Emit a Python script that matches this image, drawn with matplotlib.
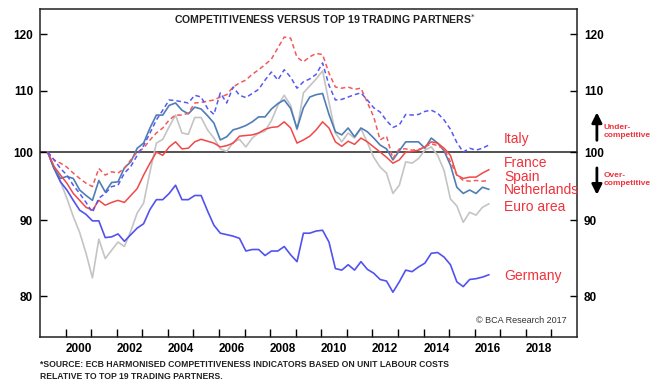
import numpy as np
import matplotlib
matplotlib.use("Agg")
import matplotlib.pyplot as plt
from matplotlib.ticker import FixedLocator, NullFormatter, NullLocator, FixedFormatter

# quarterly observations, 1999Q1 .. 2016Q2 (index 1999Q1 = 100)
quarters = 1999.3 + 0.25 * np.arange(70)

euro_area = [100, 97.5, 95.5, 93.1, 90.5, 88.3, 85.5, 82.3, 87.4, 84.8,
             85.9, 87.0, 86.4, 88.5, 91.0, 92.4, 97.0, 101.4, 102.0, 104.0,
             105.9, 103.0, 102.8, 105.5, 105.5, 103.5, 102.2, 100.5, 100.1, 101.5,
             102.0, 100.8, 102.2, 103.0, 103.3, 105.0, 107.5, 109.2, 107.5, 103.5,
             109.6, 110.8, 112.0, 113.4, 108.0, 103.0, 101.6, 103.0, 102.2, 103.7,
             101.5, 99.2, 97.7, 96.8, 93.8, 95.0, 98.5, 98.3, 99.0, 100.3,
             100.8, 99.5, 97.2, 93.0, 92.0, 89.7, 91.1, 90.7, 91.8, 92.3]

netherlands = [100, 97.5, 96.0, 96.3, 96.0, 94.3, 93.5, 92.8, 95.7, 94.0,
               95.4, 95.5, 97.6, 98.5, 100.6, 101.4, 103.8, 105.9, 105.9, 107.5,
               107.9, 106.7, 106.1, 107.2, 106.9, 105.8, 104.6, 101.9, 102.4, 103.5,
               103.8, 104.2, 104.8, 105.6, 105.6, 106.9, 107.8, 108.4, 107.0, 103.7,
               107.1, 108.9, 109.3, 109.5, 106.0, 103.2, 102.7, 103.8, 102.4, 103.8,
               103.2, 102.2, 101.1, 100.5, 98.8, 100.2, 101.6, 101.6, 101.6, 100.6,
               102.2, 101.4, 100.2, 98.0, 94.7, 93.8, 94.3, 93.8, 94.7, 94.4]

france = [100, 97.8, 96.5, 95.3, 93.8, 92.8, 91.8, 91.4, 92.8, 92.1,
          92.5, 92.8, 92.5, 93.5, 94.5, 96.5, 98.3, 100.0, 99.5, 100.8,
          101.6, 100.5, 100.6, 101.6, 102.0, 101.7, 101.4, 100.8, 101.0, 101.4,
          102.5, 102.6, 102.7, 103.0, 103.6, 103.9, 104.0, 104.8, 103.8, 101.4,
          101.9, 102.5, 103.5, 104.8, 103.8, 101.6, 100.9, 101.7, 101.2, 102.2,
          101.6, 100.8, 100.0, 99.2, 98.3, 98.8, 100.0, 100.1, 100.3, 100.8,
          101.6, 101.4, 100.6, 99.5, 96.5, 96.0, 96.2, 96.2, 96.8, 97.3]

spain = [100, 98.8, 98.3, 97.7, 96.8, 96.0, 95.3, 94.8, 97.5, 96.5,
         97.0, 96.8, 97.5, 98.8, 100.0, 100.6, 101.9, 103.0, 103.8, 105.1,
         105.9, 105.9, 106.2, 107.9, 108.0, 108.2, 108.4, 108.9, 109.3, 110.6,
         111.3, 111.8, 112.8, 113.6, 114.5, 115.5, 117.5, 119.5, 119.3, 115.8,
         115.0, 115.9, 116.5, 116.3, 113.0, 110.6, 110.4, 110.6, 110.2, 110.4,
         108.0, 105.6, 101.9, 102.5, 99.0, 100.5, 100.5, 100.3, 100.4, 100.8,
         101.3, 101.0, 100.5, 98.5, 96.5, 95.7, 95.6, 95.7, 95.6, 95.7]

italy = [100, 98.8, 97.5, 96.5, 95.0, 93.8, 92.5, 91.1, 93.1, 93.8,
         94.8, 95.0, 96.8, 97.8, 99.5, 101.0, 103.0, 105.1, 106.7, 108.4,
         108.3, 108.1, 107.9, 109.2, 108.9, 107.0, 106.0, 109.6, 107.9, 110.6,
         109.2, 108.8, 109.5, 110.2, 111.8, 113.2, 111.8, 113.6, 112.3, 110.4,
         111.5, 112.0, 112.8, 114.8, 110.9, 108.4, 108.5, 108.9, 109.3, 109.6,
         108.4, 107.1, 106.4, 105.0, 103.9, 104.3, 106.0, 105.9, 106.0, 106.5,
         106.7, 106.2, 105.1, 103.6, 101.5, 100.0, 100.6, 100.3, 100.6, 101.1]

germany = [100, 97.5, 95.5, 94.3, 92.8, 91.4, 90.8, 89.9, 89.9, 87.6,
           87.7, 88.1, 87.1, 88.0, 88.9, 89.5, 91.5, 92.9, 92.9, 93.8,
           95.0, 92.9, 92.9, 93.5, 93.5, 91.3, 89.3, 88.2, 88.0, 87.8,
           87.5, 85.8, 86.0, 86.0, 85.2, 85.8, 85.8, 86.4, 85.3, 84.4,
           88.2, 88.2, 88.5, 88.6, 87.0, 83.5, 83.3, 84.0, 83.3, 84.4,
           83.4, 82.9, 82.1, 81.9, 80.5, 81.8, 83.3, 83.1, 83.7, 84.2,
           85.5, 85.6, 85.0, 84.0, 81.8, 81.2, 82.1, 82.2, 82.4, 82.7]

label_names = ["Italy", "France", "Spain", "Netherlands", "Euro area", "Germany"]
label_levels = [102.0, 98.3, 96.2, 94.3, 91.8, 82.5]

year_ticks = list(range(2000, 2020))
year_labels = [str(y) for y in range(2000, 2020, 2)]
y_ticks = [80, 90, 100, 110, 120]

plt.rcParams['font.family'] = ['Liberation Sans', 'DejaVu Sans']

fig = plt.figure(figsize=(6.54, 3.83), dpi=100)
ax = fig.add_axes([0.0612, 0.120, 0.8211, 0.8565])

ax.plot(quarters, euro_area, color="#c4c4c4", lw=1.2)
ax.plot(quarters, germany, color="#5252ee", lw=1.2)
ax.plot(quarters, netherlands, color="#4f7db5", lw=1.2)
ax.plot(quarters, france, color="#f04848", lw=1.1)
ax.plot(quarters, spain, color="#f25a5a", lw=1.1, dashes=(3, 2))
ax.plot(quarters, italy, color="#5858f2", lw=1.1, dashes=(3, 2))
ax.axhline(100, color="#222222", lw=1.1, zorder=1)

ax.set_yscale("log")
ax.set_xlim(1999, 2020)
ax.set_ylim(75.1, 124.8)
ax.yaxis.set_major_locator(FixedLocator(y_ticks))
ax.yaxis.set_major_formatter(FixedFormatter([str(v) for v in y_ticks]))
ax.yaxis.set_minor_locator(NullLocator())
ax.yaxis.set_minor_formatter(NullFormatter())
ax.yaxis.set_ticks_position("both")
ax.tick_params(axis="y", direction="in", length=5, width=1, labelright=True,
               labelsize=8.5, pad=5)
for lab in ax.get_yticklabels():
    lab.set_fontweight("bold")

ax.xaxis.set_major_locator(FixedLocator(year_ticks))
ax.xaxis.set_major_formatter(NullFormatter())
ax.xaxis.set_minor_locator(FixedLocator([y + 0.5 for y in range(2000, 2020, 2)]))
ax.xaxis.set_minor_formatter(FixedFormatter(year_labels))
ax.tick_params(axis="x", which="major", direction="in", length=6, width=1)
ax.tick_params(axis="x", which="minor", length=0, labelsize=8.5, pad=4)
for lab in ax.get_xticklabels(minor=True):
    lab.set_fontweight("bold")

for sp in ax.spines.values():
    sp.set_linewidth(1.1)
    sp.set_color("#222222")

ax.text(0.53, 0.968, "COMPETITIVENESS VERSUS TOP 19 TRADING PARTNERS$^{*}$",
        transform=ax.transAxes, ha="center", va="center", fontsize=7.6,
        fontweight="bold", color="#222222")
ax.text(0.981, 0.049, "\u00a9 BCA Research 2017", transform=ax.transAxes,
        ha="right", va="center", fontsize=6.5, color="#333333")

for name, lvl in zip(label_names, label_levels):
    ax.text(2017.15, lvl, name, ha="left", va="center", fontsize=10,
            color="#f0323c")

trans = ax.get_yaxis_transform()
ax.annotate("", xy=(1.037, 106.8), xytext=(1.037, 101.4), xycoords=trans,
            textcoords=trans, annotation_clip=False,
            arrowprops=dict(arrowstyle="-|>,head_width=0.3,head_length=0.6",
                            color="black", lw=2))
ax.annotate("", xy=(1.037, 93.2), xytext=(1.037, 98.0), xycoords=trans,
            textcoords=trans, annotation_clip=False,
            arrowprops=dict(arrowstyle="-|>,head_width=0.3,head_length=0.6",
                            color="black", lw=2))
ax.text(1.050, 103.2, "Under-\ncompetitive", transform=trans, ha="left",
        va="center", fontsize=6, fontweight="bold", color="#f0323c",
        linespacing=1.15)
ax.text(1.050, 95.9, "Over-\ncompetitive", transform=trans, ha="left",
        va="center", fontsize=6, fontweight="bold", color="#f0323c",
        linespacing=1.15)

fig.text(0.061, 0.047, "*SOURCE: ECB HARMONISED COMPETITIVENESS INDICATORS BASED ON UNIT LABOUR COSTS",
         fontsize=6.2, fontweight="bold", color="#222222", va="center")
fig.text(0.061, 0.018, "RELATIVE TO TOP 19 TRADING PARTNERS.",
         fontsize=6.2, fontweight="bold", color="#222222", va="center")

fig.savefig("out.png", dpi=100)
